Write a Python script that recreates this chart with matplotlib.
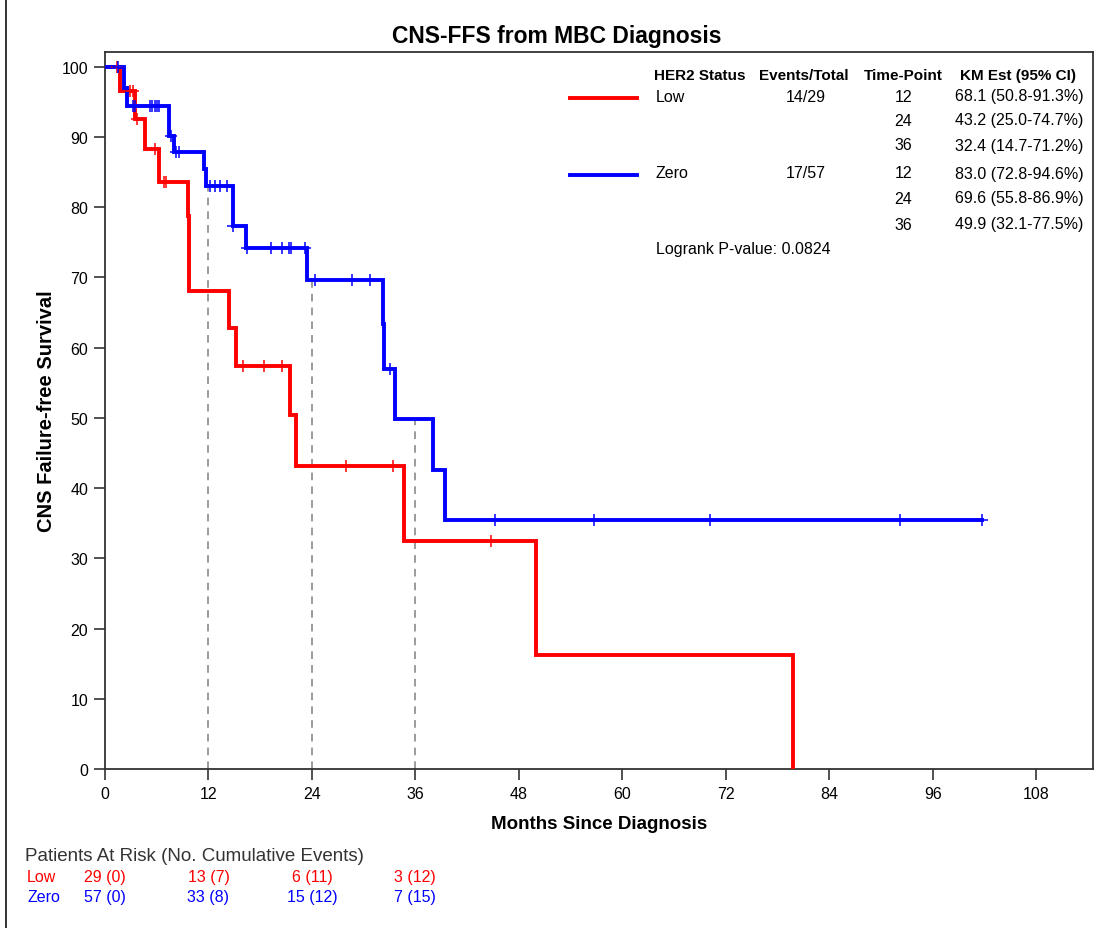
import numpy as np
import matplotlib
matplotlib.use("Agg")
import matplotlib.pyplot as plt
from matplotlib import transforms

# Kaplan-Meier step data (months, % CNS failure-free)
low_times = [0, 1.7, 3.5, 4.6, 6.3, 9.6, 9.8, 14.4, 15.2, 21.5, 22.2, 34.7, 50.0, 79.8]
low_surv = [100, 96.5, 92.6, 88.3, 83.6, 78.7, 68.1, 62.8, 57.4, 50.4, 43.2, 32.4, 16.2, 0]
low_cens = [1.35, 2.9, 3.3, 3.7, 5.8, 6.8, 7.1, 16.0, 18.5, 20.5, 27.9, 33.4, 44.8]

zero_times = [0, 2.2, 2.6, 7.4, 8.0, 11.5, 11.7, 14.8, 16.3, 23.4, 32.2, 32.35, 33.6, 38.1, 39.4]
zero_surv = [100, 97.0, 94.4, 90.1, 87.8, 85.4, 83.0, 77.3, 74.2, 69.6, 63.3, 56.9, 49.9, 42.6, 35.5]
zero_cens = [1.55, 3.2, 3.5, 5.2, 5.5, 5.8, 6.0, 6.3, 7.7, 8.2, 8.6, 12.2, 12.8, 13.3, 14.1,
             14.9, 16.5, 19.3, 20.5, 21.3, 21.6, 23.2, 24.4, 28.6, 30.7, 33.1,
             45.2, 56.7, 70.2, 92.2, 101.7]

time_points = [12, 24, 36]

legend_rows = [
    ("Low", "14/29", ["12", "24", "36"], ["68.1 (50.8-91.3%)", "43.2 (25.0-74.7%)", "32.4 (14.7-71.2%)"]),
    ("Zero", "17/57", ["12", "24", "36"], ["83.0 (72.8-94.6%)", "69.6 (55.8-86.9%)", "49.9 (32.1-77.5%)"]),
]
pvalue = "Logrank P-value: 0.0824"

risk_times = [0, 12, 24, 36]
low_risk = ["29 (0)", "13 (7)", "6 (11)", "3 (12)"]
zero_risk = ["57 (0)", "33 (8)", "15 (12)", "7 (15)"]

RED = "#FF0000"
BLUE = "#0000FF"
GREY = "#333333"
W, H = 1098, 929

plt.rcParams['font.family'] = ['Liberation Sans', 'DejaVu Sans']
NARROW = ['Liberation Sans Narrow', 'Liberation Sans', 'DejaVu Sans']


def surv_at(times, surv, t):
    i = np.searchsorted(times, t, side='right') - 1
    return surv[i]


def fx(px):
    return px / W


def fy(py):
    return 1 - py / H


fig = plt.figure(figsize=(W / 100, H / 100), dpi=100)
ax = fig.add_axes([fx(105), fy(770), fx(1093) - fx(105), fy(53) - fy(770)])

# reference lines at the time points
for t in time_points:
    top = max(surv_at(low_times, low_surv, t), surv_at(zero_times, zero_surv, t))
    ax.plot([t, t], [0, top], color="#808080", lw=1.1, ls=(0, (5, 4)), zorder=1)

# curves
for times, surv, cens, col, end in [
    (low_times, low_surv, low_cens, RED, None),
    (zero_times, zero_surv, zero_cens, BLUE, zero_cens[-1]),
]:
    xs = list(times)
    ys = list(surv)
    if end is not None:
        xs.append(end)
        ys.append(ys[-1])
    ax.step(xs, ys, where='post', color=col, lw=2.8, zorder=3,
            solid_joinstyle='miter')
    cy = [surv_at(times, surv, c) for c in cens]
    ax.plot(cens, cy, ls='none', marker='+', ms=9, mew=1.1, color=col, zorder=4)

ax.set_xlim(0, 114.6)
ax.set_ylim(0, 102.1)
ax.set_xticks(np.arange(0, 109, 12))
ax.set_yticks(np.arange(0, 101, 10))
ax.tick_params(direction='out', length=8, width=1.2, color=GREY,
               labelsize=11.5, pad=4)
for s in ax.spines.values():
    s.set_color(GREY)
    s.set_linewidth(1.3)

ax.set_xlabel("Months Since Diagnosis", family=NARROW, fontweight='bold',
              fontsize=13.5, labelpad=10)
ax.set_ylabel("CNS Failure-free Survival", fontweight='bold', fontsize=14.5,
              labelpad=4)
fig.text(fx(557), fy(37), "CNS-FFS from MBC Diagnosis", ha='center', va='center',
         fontsize=16.5, fontweight='bold')

# legend table
hdr_y = 76
fig.text(fx(654), fy(hdr_y), "HER2 Status", family=NARROW, fontweight='bold',
         fontsize=11, ha='left', va='center')
fig.text(fx(804), fy(hdr_y), "Events/Total", family=NARROW, fontweight='bold',
         fontsize=11, ha='center', va='center')
fig.text(fx(903), fy(hdr_y), "Time-Point", family=NARROW, fontweight='bold',
         fontsize=11, ha='center', va='center')
fig.text(fx(1018), fy(hdr_y), "KM Est (95% CI)", family=NARROW, fontweight='bold',
         fontsize=11, ha='center', va='center')

row_y = [[97, 121, 146], [174, 199, 225]]
for (name, ev, tps, ests), ys, col in zip(legend_rows, row_y, [RED, BLUE]):
    fig.add_artist(plt.Line2D([fx(570), fx(637)], [fy(ys[0] + 2)] * 2,
                              color=col, lw=2.8))
    fig.text(fx(656), fy(ys[0]), name, family=NARROW, fontsize=11.5, va='center')
    fig.text(fx(826), fy(ys[0]), ev, family=NARROW, fontsize=11.5, va='center', ha='right')
    for yy, tp, est in zip(ys, tps, ests):
        fig.text(fx(912), fy(yy), tp, family=NARROW, fontsize=11.5, va='center', ha='right')
        fig.text(fx(955), fy(yy), est, family=NARROW, fontsize=11.5, va='center')
fig.text(fx(656), fy(250), pvalue, family=NARROW, fontsize=11.5, va='center')

# patients at risk
fig.text(fx(25), fy(857), "Patients At Risk (No. Cumulative Events)", fontsize=13.5,
         color=GREY, va='center')
fig.text(fx(27), fy(878), "Low", fontsize=11.5, color=RED, va='center')
fig.text(fx(27), fy(898), "Zero", fontsize=11.5, color=BLUE, va='center')
trans = transforms.blended_transform_factory(ax.transData, fig.transFigure)
for t, lo, ze in zip(risk_times, low_risk, zero_risk):
    ax.text(t, fy(878), lo, transform=trans, ha='center', va='center',
            fontsize=11.5, color=RED)
    ax.text(t, fy(898), ze, transform=trans, ha='center', va='center',
            fontsize=11.5, color=BLUE)

# outer border
fig.add_artist(plt.Line2D([fx(6), fx(6)], [fy(0), fy(929)], color="#222222", lw=1.3))

fig.savefig("out.png", dpi=100)
